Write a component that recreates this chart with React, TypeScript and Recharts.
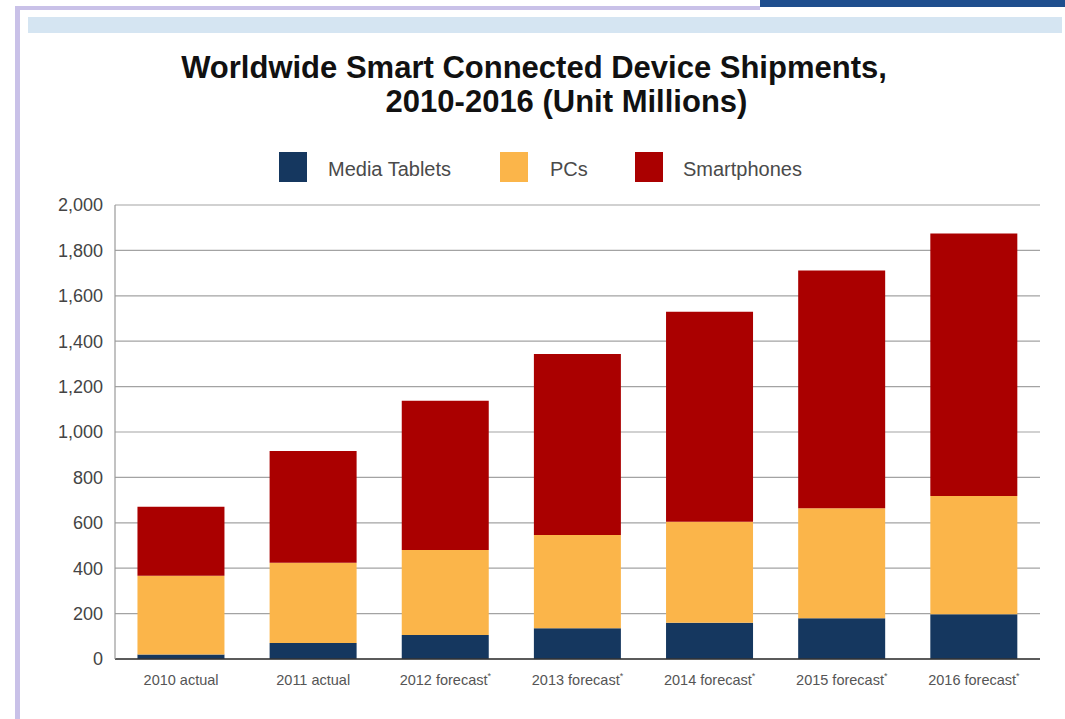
import { BarChart, Bar, XAxis, YAxis, CartesianGrid, Legend } from 'recharts';

const categories = [
  '2010 actual', '2011 actual', '2012 forecast*', '2013 forecast*',
  '2014 forecast*', '2015 forecast*', '2016 forecast*',
];
const mediaTablets = [20, 70, 106, 135, 160, 179, 197];
const pcs = [347, 354, 374, 411, 445, 485, 521];
const smartphones = [304, 492, 658, 798, 925, 1047, 1157];
const yTicks = [0, 200, 400, 600, 800, 1000, 1200, 1400, 1600, 1800, 2000];

const data = categories.map((name, i) => ({
  name,
  tablets: mediaTablets[i],
  pcs: pcs[i],
  smartphones: smartphones[i],
}));

const FONT = '"Liberation Sans", Arial, Helvetica, sans-serif';

// x offsets of each legend entry (square left, label left)
const legendPos = [
  { sq: 279, txt: 328 },
  { sq: 500, txt: 550 },
  { sq: 635, txt: 683 },
];

function LegendContent({ payload }: any) {
  return (
    <div style={{ position: 'relative', width: 1065, height: 34, fontFamily: FONT }}>
      {(payload || []).map((p: any, i: number) => (
        <div key={p.value}>
          <div
            style={{
              position: 'absolute', left: legendPos[i].sq, top: 2,
              width: 28, height: 30, background: p.color,
            }}
          />
          <div
            style={{
              position: 'absolute', left: legendPos[i].txt, top: 8,
              fontSize: 20, color: '#4a4a4a', whiteSpace: 'nowrap', lineHeight: '22px',
            }}
          >
            {p.value}
          </div>
        </div>
      ))}
    </div>
  );
}

function XTick({ x, y, payload }: any) {
  const label: string = payload.value;
  const star = label.endsWith('*');
  const main = star ? label.slice(0, -1) : label;
  return (
    <text x={x} y={y + 26} textAnchor="middle" fontSize={14.5} fill="#555" fontFamily={FONT}>
      {main}
      {star && <tspan fontSize={9} dy={-6}>*</tspan>}
    </text>
  );
}

export default function App() {
  return (
    <div style={{ position: 'absolute', left: 0, top: 0, width: 1065, height: 719, background: '#fff', overflow: 'hidden' }}>
      {/* page frame */}
      <div style={{ position: 'absolute', left: 15, top: 6, width: 745, height: 4, background: '#c9c1e8' }} />
      <div style={{ position: 'absolute', left: 15, top: 6, width: 5, height: 713, background: '#c9c1e8' }} />
      <div style={{ position: 'absolute', left: 760, top: 0, width: 305, height: 7, background: '#1f4f8e' }} />
      <div style={{ position: 'absolute', left: 28, top: 17, width: 1034, height: 16, background: '#d5e5f2' }} />

      <div style={{ position: 'absolute', left: 0, top: 51, width: 1068, textAlign: 'center', fontFamily: FONT, fontWeight: 'bold', fontSize: 31, color: '#111', lineHeight: '34px', whiteSpace: 'nowrap' }}>
        Worldwide Smart Connected Device Shipments,
      </div>
      <div style={{ position: 'absolute', left: 0, top: 85, width: 1133, textAlign: 'center', fontFamily: FONT, fontWeight: 'bold', fontSize: 31, color: '#111', lineHeight: '34px', whiteSpace: 'nowrap' }}>
        2010-2016 (Unit Millions)
      </div>

      <div style={{ position: 'absolute', left: 0, top: 0 }}>
        <BarChart
          width={1065}
          height={719}
          data={data}
          margin={{ top: 205, right: 25, bottom: 20, left: 35 }}
          barCategoryGap="17%"
        >
          <CartesianGrid vertical={false} stroke="#a3a3a3" strokeWidth={1.2} />
          <XAxis
            dataKey="name"
            height={40}
            tickLine={false}
            tickSize={0}
            tickMargin={0}
            axisLine={{ stroke: '#333', strokeWidth: 1.6 }}
            tick={<XTick />}
            interval={0}
          />
          <YAxis
            width={80}
            domain={[0, 2000]}
            ticks={yTicks}
            tickLine={false}
            tickMargin={6}
            axisLine={{ stroke: '#999', strokeWidth: 1.2 }}
            tick={{ fontSize: 18, fill: '#444', fontFamily: FONT }}
            tickFormatter={(v: number) => v.toLocaleString('en-US')}
          />
          <Legend
            verticalAlign="middle"
            align="center"
            layout="horizontal"
            content={<LegendContent />}
            wrapperStyle={{ position: 'absolute', top: 150, left: 0, width: 1065 }}
          />
          <Bar dataKey="tablets" name="Media Tablets" stackId="a" fill="#15375f" isAnimationActive={false} />
          <Bar dataKey="pcs" name="PCs" stackId="a" fill="#fbb54a" isAnimationActive={false} />
          <Bar dataKey="smartphones" name="Smartphones" stackId="a" fill="#aa0000" isAnimationActive={false} />
        </BarChart>
      </div>
    </div>
  );
}
